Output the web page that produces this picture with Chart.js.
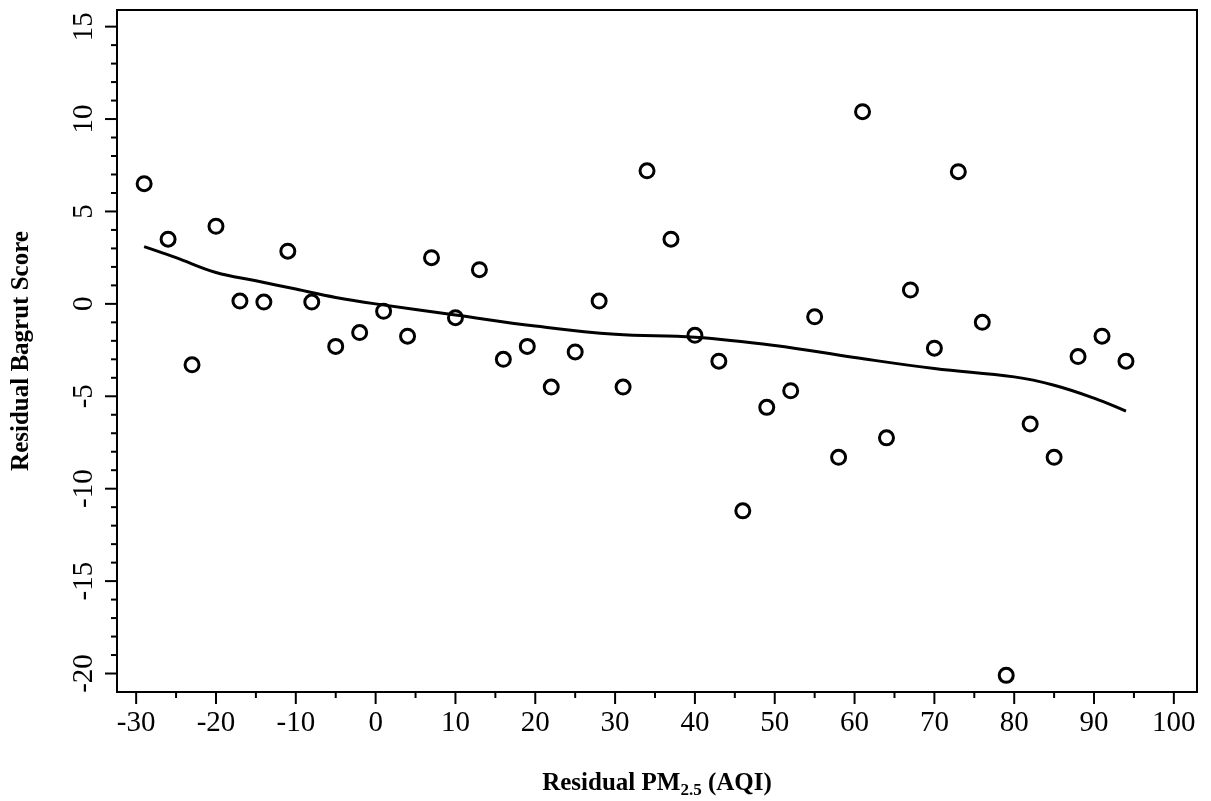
<!DOCTYPE html>
<html>
<head>
<meta charset="utf-8">
<script src="https://cdn.jsdelivr.net/npm/chart.js@4"></script>
<style>
  html, body { margin: 0; padding: 0; background: #fff; }
  #wrap { width: 1211px; height: 801px; }
</style>
</head>
<body>
<div id="wrap"><canvas id="c"></canvas></div>
<script>
// ── Data ──────────────────────────────────
const pointX = [-29, -26, -23, -20, -17, -14, -11, -8, -5, -2, 1, 4, 7, 10, 13, 16, 19, 22, 25, 28,
  31, 34, 37, 40, 43, 46, 49, 52, 55, 58, 61, 64, 67, 70, 73, 76, 79, 82, 85, 88, 91, 94];
const pointY = [6.5, 3.5, -3.3, 4.2, 0.15, 0.1, 2.85, 0.1, -2.3, -1.55, -0.4, -1.75, 2.5, -0.75, 1.85, -3.0, -2.3, -4.5, -2.6, 0.15,
  -4.5, 7.2, 3.5, -1.7, -3.1, -11.2, -5.6, -4.7, -0.7, -8.3, 10.4, -7.25, 0.75, -2.4, 7.15, -1.0, -20.1, -6.5, -8.3, -2.85, -1.75, -3.1];
const smoothX = [-29, -25, -20, -15, -10, -5, 0, 10, 20, 30, 40, 50, 60, 70, 80, 85, 90, 94];
const smoothY = [3.1, 2.5, 1.7, 1.25, 0.8, 0.35, 0.0, -0.6, -1.2, -1.65, -1.8, -2.25, -2.9, -3.5, -3.95, -4.4, -5.1, -5.8];
const xTicks = [-30, -20, -10, 0, 10, 20, 30, 40, 50, 60, 70, 80, 90, 100];
const yTicks = [-20, -15, -10, -5, 0, 5, 10, 15];

const FONT = "'Liberation Serif', 'DejaVu Serif', serif";

// ── Axes drawn by hand (base-graphics look) ──
const axesPlugin = {
  id: 'axesPlugin',
  afterDraw(chart) {
    const { ctx, chartArea: a, scales: { x, y } } = chart;
    ctx.save();
    ctx.strokeStyle = '#000';
    ctx.fillStyle = '#000';
    ctx.lineWidth = 2;
    ctx.strokeRect(a.left, a.top, a.right - a.left, a.bottom - a.top);

    // x ticks
    for (let v = -30; v <= 100; v += 5) {
      const px = x.getPixelForValue(v);
      const len = v % 10 === 0 ? 12 : 6;
      ctx.beginPath(); ctx.moveTo(px, a.bottom); ctx.lineTo(px, a.bottom + len); ctx.stroke();
    }
    ctx.font = `29px ${FONT}`;
    ctx.textAlign = 'center';
    ctx.textBaseline = 'top';
    xTicks.forEach(v => ctx.fillText(String(v), x.getPixelForValue(v), a.bottom + 17));

    // y ticks
    for (let v = -20; v <= 15; v += 1) {
      const py = y.getPixelForValue(v);
      const len = v % 5 === 0 ? 12 : 6;
      ctx.beginPath(); ctx.moveTo(a.left, py); ctx.lineTo(a.left - len, py); ctx.stroke();
    }
    yTicks.forEach(v => {
      ctx.save();
      ctx.translate(a.left - 18, y.getPixelForValue(v));
      ctx.rotate(-Math.PI / 2);
      ctx.textAlign = 'center';
      ctx.textBaseline = 'bottom';
      ctx.fillText(String(v), 0, 0);
      ctx.restore();
    });

    // y title
    ctx.save();
    ctx.font = `bold 25px ${FONT}`;
    ctx.translate(22, (a.top + a.bottom) / 2);
    ctx.rotate(-Math.PI / 2);
    ctx.textAlign = 'center';
    ctx.textBaseline = 'middle';
    ctx.fillText('Residual Bagrut Score', 0, 0);
    ctx.restore();

    // x title with subscript
    const parts = [['Residual PM', 25, 0], ['2.5', 17, 5], [' (AQI)', 25, 0]];
    let total = 0;
    parts.forEach(p => { ctx.font = `bold ${p[1]}px ${FONT}`; total += ctx.measureText(p[0]).width; });
    let cx = (a.left + a.right) / 2 - total / 2;
    ctx.textAlign = 'left';
    ctx.textBaseline = 'alphabetic';
    parts.forEach(p => {
      ctx.font = `bold ${p[1]}px ${FONT}`;
      ctx.fillText(p[0], cx, 790 + p[2]);
      cx += ctx.measureText(p[0]).width;
    });
    ctx.restore();
  }
};

new Chart(document.getElementById('c'), {
  type: 'scatter',
  data: {
    datasets: [
      {
        data: pointX.map((v, i) => ({ x: v, y: pointY[i] })),
        pointStyle: 'circle',
        pointRadius: 7,
        pointBorderWidth: 3,
        pointBorderColor: '#000',
        pointBackgroundColor: 'rgba(0,0,0,0)',
      },
      {
        type: 'line',
        data: smoothX.map((v, i) => ({ x: v, y: smoothY[i] })),
        borderColor: '#000',
        borderWidth: 3,
        pointRadius: 0,
        tension: 0.4,
        fill: false,
      },
    ],
  },
  options: {
    responsive: true,
    maintainAspectRatio: false,
    animation: false,
    layout: { padding: { left: 117, right: 14, top: 5, bottom: 109 } },
    plugins: { legend: { display: false }, tooltip: { enabled: false } },
    scales: {
      x: {
        type: 'linear', min: -32.4, max: 102.9,
        ticks: { display: false }, grid: { display: false }, border: { display: false },
        afterFit: s => { s.height = 0; },
      },
      y: {
        type: 'linear', min: -21.0, max: 15.9,
        ticks: { display: false }, grid: { display: false }, border: { display: false },
        afterFit: s => { s.width = 0; },
      },
    },
  },
  plugins: [axesPlugin],
});
</script>
</body>
</html>
